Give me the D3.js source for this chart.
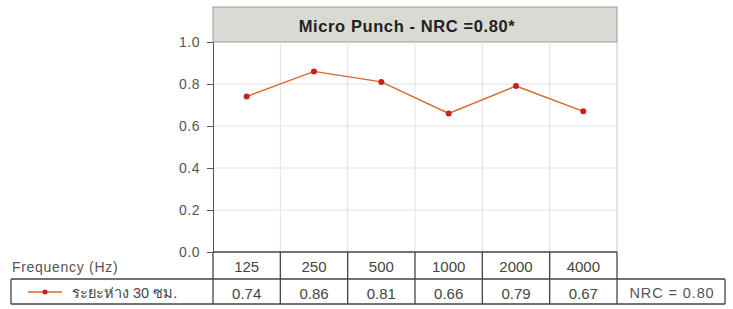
<!DOCTYPE html>
<html>
<head>
<meta charset="utf-8">
<script src="https://cdn.jsdelivr.net/npm/d3@7"></script>
<style>
  body { margin: 0; background: #fff; }
  text { font-family: "Liberation Sans", Arial, "DejaVu Sans", sans-serif; }
</style>
</head>
<body>
<script>
var freqs = ["125", "250", "500", "1000", "2000", "4000"];
var values = [0.74, 0.86, 0.81, 0.66, 0.79, 0.67];
var yTicks = [0, 0.2, 0.4, 0.6, 0.8, 1.0];
var title = "Micro Punch - NRC =0.80*";
var seriesName = "ระยะห่าง 30 ซม.";
var nrcLabel = "NRC = 0.80";

var width = 733, height = 309;
var plotL = 213, plotR = 617, plotT = 42, plotB = 252;

var svg = d3.select("body").append("svg")
  .attr("width", width)
  .attr("height", height);

var x = d3.scaleBand().domain(freqs).range([plotL, plotR]);
var y = d3.scaleLinear().domain([0, 1]).range([plotB, plotT]);

// title box
svg.append("rect")
  .attr("x", plotL).attr("y", 7)
  .attr("width", plotR - plotL).attr("height", plotT - 7)
  .attr("fill", "#dadad5")
  .attr("stroke", "#9a9a9a");
svg.append("text")
  .attr("x", 407).attr("y", 32)
  .attr("text-anchor", "middle")
  .attr("font-size", 16.5).attr("font-weight", "bold")
  .attr("letter-spacing", 0.6)
  .attr("fill", "#222")
  .text(title);

// grid
svg.append("g")
  .selectAll("line")
  .data(yTicks.slice(1, -1))
  .join("line")
  .attr("x1", plotL).attr("x2", plotR)
  .attr("y1", d => y(d)).attr("y2", d => y(d))
  .attr("stroke", "#e2e2e2");
svg.append("g")
  .selectAll("line")
  .data(freqs.slice(1))
  .join("line")
  .attr("x1", d => x(d)).attr("x2", d => x(d))
  .attr("y1", plotT).attr("y2", plotB)
  .attr("stroke", "#e2e2e2");
svg.append("line")
  .attr("x1", plotR).attr("x2", plotR)
  .attr("y1", plotT).attr("y2", plotB)
  .attr("stroke", "#c8c8c8");

// y axis
var yAxis = svg.append("g")
  .attr("transform", "translate(" + plotL + ",0)")
  .call(d3.axisLeft(y).tickValues(yTicks).tickFormat(d3.format(".1f")).tickSize(6).tickPadding(7));
yAxis.select(".domain").attr("stroke", "#555");
yAxis.selectAll(".tick line").attr("stroke", "#555");
yAxis.selectAll(".tick text")
  .attr("font-size", 14).attr("fill", "#555")
  .attr("letter-spacing", 0.5)
  .style("font-family", "Liberation Sans, Arial, sans-serif");

// line
var line = d3.line()
  .x((d, i) => x(freqs[i]) + x.bandwidth() / 2)
  .y(d => y(d));
svg.append("path")
  .datum(values)
  .attr("d", line)
  .attr("fill", "none")
  .attr("stroke", "#d4672e")
  .attr("stroke-width", 1.4);
svg.append("g")
  .selectAll("circle")
  .data(values)
  .join("circle")
  .attr("cx", (d, i) => x(freqs[i]) + x.bandwidth() / 2)
  .attr("cy", d => y(d))
  .attr("r", 3)
  .attr("fill", "#c8201c");

// table
var rowMid = 279, rowBot = 304;
var tbl = svg.append("g").attr("stroke", "#444").attr("fill", "none").attr("stroke-width", 1.3);
tbl.append("line").attr("x1", plotL).attr("x2", plotR).attr("y1", plotB).attr("y2", plotB);
tbl.append("line").attr("x1", 11).attr("x2", 725).attr("y1", rowMid).attr("y2", rowMid);
tbl.append("line").attr("x1", 11).attr("x2", 725).attr("y1", rowBot).attr("y2", rowBot);
tbl.append("line").attr("x1", 11).attr("x2", 11).attr("y1", rowMid).attr("y2", rowBot);
tbl.append("line").attr("x1", 725).attr("x2", 725).attr("y1", rowMid).attr("y2", rowBot);
tbl.selectAll("line.col")
  .data(freqs.concat(["end"]))
  .join("line")
  .attr("class", "col")
  .attr("x1", d => d == "end" ? plotR : x(d))
  .attr("x2", d => d == "end" ? plotR : x(d))
  .attr("y1", plotB).attr("y2", rowBot);

svg.append("g")
  .selectAll("text")
  .data(freqs)
  .join("text")
  .attr("x", d => x(d) + x.bandwidth() / 2)
  .attr("y", 272)
  .attr("text-anchor", "middle")
  .attr("font-size", 15).attr("fill", "#444")
  .text(d => d);
svg.append("g")
  .selectAll("text")
  .data(values)
  .join("text")
  .attr("x", (d, i) => x(freqs[i]) + x.bandwidth() / 2)
  .attr("y", 299)
  .attr("text-anchor", "middle")
  .attr("font-size", 15).attr("fill", "#444")
  .text(d => d3.format(".2f")(d));

svg.append("text")
  .attr("x", 12).attr("y", 272)
  .attr("font-size", 14).attr("letter-spacing", 0.7).attr("fill", "#555")
  .text("Frequency (Hz)");

// legend
svg.append("line")
  .attr("x1", 28).attr("x2", 62).attr("y1", 292).attr("y2", 292)
  .attr("stroke", "#d4672e").attr("stroke-width", 1.4);
svg.append("circle")
  .attr("cx", 45).attr("cy", 292).attr("r", 2.5).attr("fill", "#c8201c");
svg.append("text")
  .attr("x", 72).attr("y", 298)
  .attr("font-size", 14.5).attr("fill", "#444")
  .text(seriesName);

svg.append("text")
  .attr("x", 672).attr("y", 298)
  .attr("text-anchor", "middle")
  .attr("font-size", 14.5).attr("letter-spacing", 0.9).attr("fill", "#555")
  .text(nrcLabel);
</script>
</body>
</html>
